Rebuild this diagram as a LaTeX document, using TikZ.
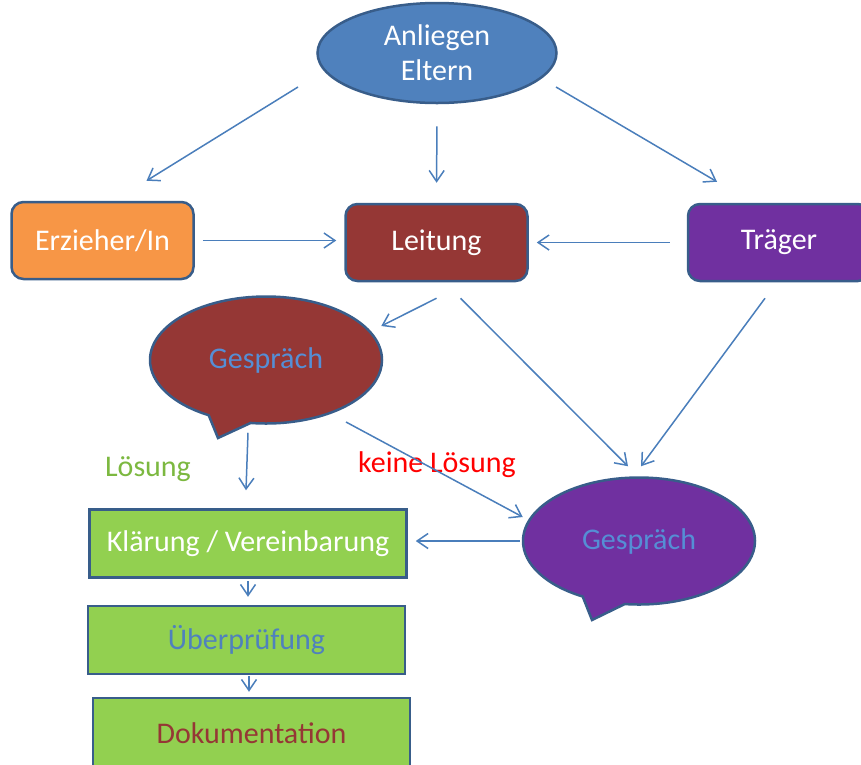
\documentclass[tikz,border=0pt]{standalone}
\usepackage{fontspec}
\setmainfont{Carlito}
\usetikzlibrary{shapes.geometric, shapes.callouts, arrows.meta}

\definecolor{pfeilblau}{RGB}{74,126,187}
\definecolor{rand}{RGB}{56,93,138}
\definecolor{blau}{RGB}{79,129,189}
\definecolor{hellblau}{RGB}{85,142,213}
\definecolor{orangeF}{RGB}{247,150,70}
\definecolor{rotbraun}{RGB}{149,55,53}
\definecolor{lila}{RGB}{112,48,160}
\definecolor{hellgruen}{RGB}{146,208,80}
\definecolor{loesung}{RGB}{124,184,64}

\begin{document}
\begin{tikzpicture}[x=1pt, y=-1pt,
						every node/.style={font=\fontsize{30}{35}\selectfont, text=white},
						every path/.style={>={Straight Barb[length=11pt,width=15pt]}},
						box/.style={rectangle, draw=rand, line width=2.5pt, rounded corners=12pt,
							minimum width=182pt, minimum height=77pt},
						gruen/.style={rectangle, draw=rand, line width=2.5pt, fill=hellgruen,
							minimum width=317pt, minimum height=68pt},
						sprech/.style={ellipse callout, draw=rand, line width=2.5pt, callout pointer arc=22,
							minimum width=232pt, minimum height=127pt, text=hellblau},
						pfeil/.style={->, draw=pfeilblau, line width=1.5pt}]
					\useasboundingbox (0,0) rectangle (861,764);

					\node[ellipse, draw=rand, line width=2.5pt, fill=blau, align=center,
						minimum width=239pt, minimum height=100pt] (Eltern) at (437,53) {Anliegen\\Eltern};
					\node[box, fill=orangeF] (Erz) at (102.5,240.5) {Erzieher/In};
					\node[box, fill=rotbraun] (Leit) at (436.5,242.5) {Leitung};
					\node[box, fill=lila] (Traeger) at (779,242.5) {Träger};
					\node[sprech, fill=rotbraun, callout absolute pointer={(218,438)}] (G1) at (266,360) {Gespräch};
					\node[sprech, fill=lila, callout absolute pointer={(592,620)}] (G2) at (639,541) {Gespräch};
					\node[gruen] (Klaer) at (248,543.5) {Klärung / Vereinbarung};
					\node[gruen, text=blau] (Ueber) at (246.5,640) {Überprüfung};
					\node[gruen, text=rotbraun, minimum height=70pt] (Doku) at (251.5,733) {Dokumentation};
					\node[text=loesung] (L1) at (148,469) {Lösung};
					\node[text=red] (L2) at (437,465) {keine Lösung};

					\draw[pfeil] ([shift={(-139,34)}]Eltern.center) -- ([shift={(44,-20)}]Erz.north);
					\draw[pfeil, shorten <=22pt, shorten >=20pt] (Eltern.south) -- (Leit.north);
					\draw[pfeil] ([shift={(119,34)}]Eltern.center) -- ([shift={(-62,-21)}]Traeger.north);
					\draw[pfeil, shorten <=8pt, shorten >=8pt] (Erz.east) -- (Erz.east -| Leit.west);
					\draw[pfeil, shorten <=17pt, shorten >=8pt] (Traeger.west) -- (Traeger.west -| Leit.east);
					\draw[pfeil] ([shift={(0,16)}]Leit.south) -- ([shift={(-2,-34)}]G1.east);
					\draw[pfeil] ([shift={(24,16)}]Leit.south) -- ([shift={(-11,-10)}]G2.north);
					\draw[pfeil] ([shift={(-14,16)}]Traeger.south) -- ([shift={(2,-10)}]G2.north);
					\draw[pfeil] ([shift={(-18,8)}]G1.south) -- ([shift={(-2,-18)}]Klaer.north);
					\draw[pfeil] ([shift={(80,62)}]G1.center) -- ([shift={(1,-24)}]G2.west);
					\draw[pfeil, shorten <=2pt, shorten >=8pt] (G2.west) -- (G2.west -| Klaer.east);
					\draw[pfeil, shorten <=2pt, shorten >=8pt] (Klaer.south) -- (Klaer.south |- Ueber.north);
					\draw[pfeil, shorten <=1pt, shorten >=5pt] ([xshift=2.5pt]Ueber.south) -- ([xshift=2.5pt]Ueber.south |- Doku.north);
				\end{tikzpicture}
\end{document}
